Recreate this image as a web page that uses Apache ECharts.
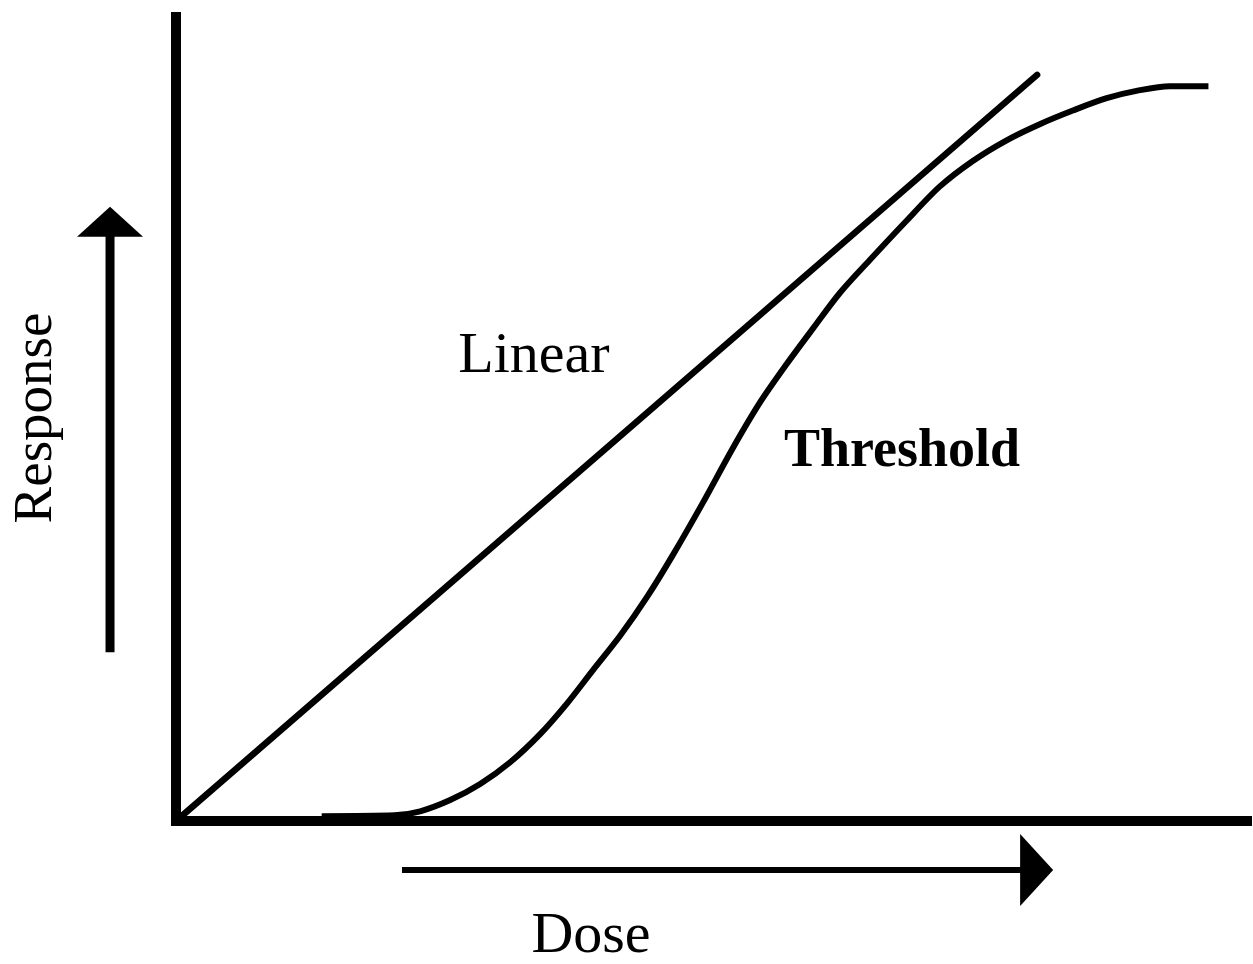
<!DOCTYPE html>
<html><head><meta charset="utf-8">
<script src="https://cdn.jsdelivr.net/npm/echarts@6/dist/echarts.min.js"></script>
<style>html,body{margin:0;padding:0;background:#fff}#c{width:1253px;height:964px}</style>
</head><body><div id="c"></div>
<script>
// Data (dose / response in arbitrary units 0-100)
const linearDose = [0, 80.4];
const linearResponse = [0, 92.8];
const thresholdDose = [13.6, 20.4, 22.8, 25.6, 28.4, 31.2, 34.0, 36.5, 38.9, 41.5, 44.0, 46.4, 49.2, 52.0, 54.5, 57.0, 59.5, 62.0, 64.8, 68.1, 71.3, 74.4, 77.6, 80.7, 83.8, 86.9, 90.0, 92.8, 96.4];
const thresholdResponse = [0.6, 0.7, 1.2, 2.6, 4.6, 7.3, 10.8, 14.6, 18.7, 23.1, 27.9, 33.1, 39.6, 46.4, 52.0, 56.8, 61.3, 65.7, 69.8, 74.5, 78.9, 82.1, 84.7, 86.7, 88.4, 89.9, 90.9, 91.4, 91.4];
// Arrow start/end in data units: [x0, y0, x1, y1]
const responseArrow = [-6.16, 21.0, -6.16, 76.4];
const doseArrow = [21.1, -6.1, 81.9, -6.1];
const labelLinear = 'Linear';
const labelThreshold = 'Threshold';
const labelResponse = 'Response';
const labelDose = 'Dose';

const arrowStyles = [
  { shaft: 9, headLen: 30, half: 33 },
  { shaft: 6, headLen: 33, half: 36 }
];
const FONT = '"Liberation Serif", "Times New Roman", serif';

const chart = echarts.init(document.getElementById('c'), null, { renderer: 'canvas' });
const axisCommon = {
  type: 'value', min: 0, max: 100,
  axisLine: { show: true, onZero: false, lineStyle: { color: '#000', width: 10, cap: 'square' } },
  axisTick: { show: false }, axisLabel: { show: false }, splitLine: { show: false }
};
chart.setOption({
  animation: false,
  backgroundColor: '#fff',
  grid: { left: 176, top: 17, right: 6, bottom: 143 },
  xAxis: axisCommon,
  yAxis: axisCommon,
  series: [
    {
      type: 'line', name: labelLinear, symbol: 'none',
      data: linearDose.map((d, i) => [d, linearResponse[i]]),
      lineStyle: { color: '#000', width: 6.5, cap: 'round' }, clip: false
    },
    {
      type: 'line', name: labelThreshold, symbol: 'none', smooth: 0.3,
      data: thresholdDose.map((d, i) => [d, thresholdResponse[i]]),
      lineStyle: { color: '#000', width: 6, cap: 'butt' }, clip: false
    },
    {
      type: 'custom', clip: false,
      data: [responseArrow, doseArrow],
      renderItem: function (params, api) {
        const p0 = api.coord([api.value(0), api.value(1)]);
        const p1 = api.coord([api.value(2), api.value(3)]);
        const st = arrowStyles[params.dataIndex];
        const dx = p1[0] - p0[0], dy = p1[1] - p0[1];
        const len = Math.hypot(dx, dy);
        const ux = dx / len, uy = dy / len;
        const bx = p1[0] - ux * st.headLen, by = p1[1] - uy * st.headLen;
        const nx = -uy, ny = ux;
        return {
          type: 'group', children: [
            { type: 'line', shape: { x1: p0[0], y1: p0[1], x2: bx + ux * 2, y2: by + uy * 2 }, style: { stroke: '#000', lineWidth: st.shaft } },
            { type: 'polygon', shape: { points: [[p1[0], p1[1]], [bx + nx * st.half, by + ny * st.half], [bx - nx * st.half, by - ny * st.half]] }, style: { fill: '#000' } }
          ]
        };
      }
    }
  ],
  graphic: [
    { type: 'text', x: 534, y: 357, style: { text: labelLinear, font: '58px ' + FONT, fill: '#000', align: 'center', verticalAlign: 'middle' } },
    { type: 'text', x: 902, y: 452, style: { text: labelThreshold, font: 'bold 54px ' + FONT, fill: '#000', align: 'center', verticalAlign: 'middle' } },
    { type: 'text', x: 37, y: 418, rotation: Math.PI / 2, style: { text: labelResponse, font: '55px ' + FONT, fill: '#000', align: 'center', verticalAlign: 'middle' } },
    { type: 'text', x: 591, y: 937, style: { text: labelDose, font: '58px ' + FONT, fill: '#000', align: 'center', verticalAlign: 'middle' } }
  ]
});
</script></body></html>
